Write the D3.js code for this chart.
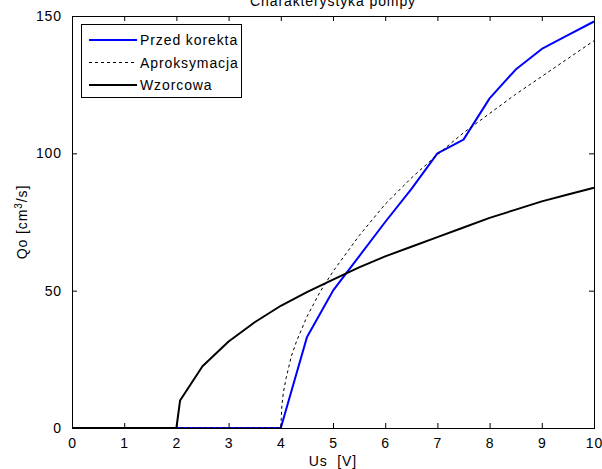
<!DOCTYPE html>
<html>
<head>
<meta charset="utf-8">
<script src="https://cdn.jsdelivr.net/npm/d3@7"></script>
<style>
  body { margin: 0; background: #fff; }
  text { font-family: "Liberation Sans", Arial, sans-serif; letter-spacing: 0.9px; }
</style>
</head>
<body>
<script>
// Charakterystyka pompy
var xTicks = [0, 1, 2, 3, 4, 5, 6, 7, 8, 9, 10];
var yTicks = [0, 50, 100, 150];

var przedX = [0, 4, 4.5, 5, 5.5, 6, 6.5, 7, 7.5, 8, 8.5, 9, 9.5, 10];
var przedY = [0, 0, 33, 50, 62.5, 75, 87, 100, 105, 120, 130.5, 138, 143, 148];

var aproxX = [0, 4, 4.02, 4.05, 4.1, 4.2, 4.3, 4.5, 4.75, 5, 5.5, 6, 6.5, 7, 7.5, 8, 8.5, 9, 9.5, 10];
var aproxY = [0, 0, 8, 13, 18, 26, 31.5, 40.5, 49.5, 57, 70, 81.5, 91, 99.5, 107.5, 114.5, 121.5, 128, 134.5, 141];

var wzorX = [0, 2, 2.07, 2.5, 3, 3.5, 4, 4.5, 5, 5.5, 6, 6.5, 7, 7.5, 8, 8.5, 9, 9.5, 10];
var wzorY = [0, 0, 10, 22.5, 31.5, 38.5, 44.5, 49.5, 54, 58.5, 62.5, 66, 69.5, 73, 76.5, 79.5, 82.5, 85, 87.5];

var series = [
  {name: "Przed korekta", xs: przedX, ys: przedY, color: "#0000ff", width: 2, dash: null},
  {name: "Aproksymacja", xs: aproxX, ys: aproxY, color: "#000", width: 1, dash: "3,3"},
  {name: "Wzorcowa", xs: wzorX, ys: wzorY, color: "#000", width: 2, dash: null}
];

var W = 602, H = 469;
// plot box (careful: "top" is a window global)
var pL = 72, pR = 594, pT = 16, pB = 428;

var x = d3.scaleLinear().domain([0, 10]).range([pL, pR]);
var y = d3.scaleLinear().domain([0, 150]).range([pB, pT]);

var svg = d3.select("body").append("svg")
    .attr("width", W)
    .attr("height", H);

var line = d3.line().x(function(d) { return x(d[0]); }).y(function(d) { return y(d[1]); });

series.forEach(function(s) {
  var pts = s.xs.map(function(v, i) { return [v, s.ys[i]]; });
  svg.append("path")
      .attr("d", line(pts))
      .attr("fill", "none")
      .attr("stroke", s.color)
      .attr("stroke-width", s.width)
      .attr("stroke-dasharray", s.dash)
      .attr("stroke-linejoin", "round");
});

// axes with inward ticks on all 4 sides
function noDomain(g) { g.select(".domain").remove(); }
svg.append("g")
    .attr("transform", "translate(0," + pB + ")")
    .call(d3.axisBottom(x).tickValues(xTicks).tickSizeInner(-5).tickSizeOuter(0).tickPadding(10))
    .call(noDomain);
svg.append("g")
    .attr("transform", "translate(0," + pT + ")")
    .call(d3.axisTop(x).tickValues(xTicks).tickSizeInner(-5).tickSizeOuter(0).tickFormat(""))
    .call(noDomain);
svg.append("g")
    .attr("transform", "translate(" + pL + ",0)")
    .call(d3.axisLeft(y).tickValues(yTicks).tickSizeInner(-5).tickSizeOuter(0).tickPadding(10))
    .call(noDomain);
svg.append("g")
    .attr("transform", "translate(" + pR + ",0)")
    .call(d3.axisRight(y).tickValues(yTicks).tickSizeInner(-5).tickSizeOuter(0).tickFormat(""))
    .call(noDomain);

svg.selectAll(".tick text")
    .style("font-size", "14px")
    .style("font-family", "'Liberation Sans', Arial, sans-serif")
    .attr("fill", "#000");
svg.selectAll(".tick line").attr("stroke", "#000");

svg.append("rect")
    .attr("x", pL + 0.5).attr("y", pT + 0.5)
    .attr("width", pR - pL).attr("height", pB - pT)
    .attr("fill", "none")
    .attr("stroke", "#000");

// title, axis labels
svg.append("text")
    .attr("x", (pL + pR) / 2).attr("y", 6)
    .attr("text-anchor", "middle")
    .style("font-size", "14px")
    .text("Charakterystyka pompy");

svg.append("text")
    .attr("x", (pL + pR) / 2).attr("y", 466)
    .attr("text-anchor", "middle")
    .style("font-size", "14px")
    .style("white-space", "pre")
    .text("Us  [V]");

var yl = svg.append("text")
    .attr("transform", "translate(27," + (pT + pB) / 2 + ")rotate(-90)")
    .attr("text-anchor", "middle")
    .style("font-size", "14px");
yl.append("tspan").text("Qo [cm");
yl.append("tspan").attr("dy", -5).style("font-size", "10px").text("3");
yl.append("tspan").attr("dy", 5).text("/s]");

// legend
var lg = svg.append("g");
lg.append("rect")
    .attr("x", 81.5).attr("y", 24.5)
    .attr("width", 160).attr("height", 73)
    .attr("fill", "#fff")
    .attr("stroke", "#000");
series.forEach(function(s, i) {
  var yy = 40 + i * 22.5;
  lg.append("line")
      .attr("x1", 89).attr("x2", 137)
      .attr("y1", yy).attr("y2", yy)
      .attr("stroke", s.color)
      .attr("stroke-width", s.width)
      .attr("stroke-dasharray", s.dash);
  lg.append("text")
      .attr("x", 140).attr("y", yy + 5)
      .style("font-size", "14px")
      .text(s.name);
});
</script>
</body>
</html>
